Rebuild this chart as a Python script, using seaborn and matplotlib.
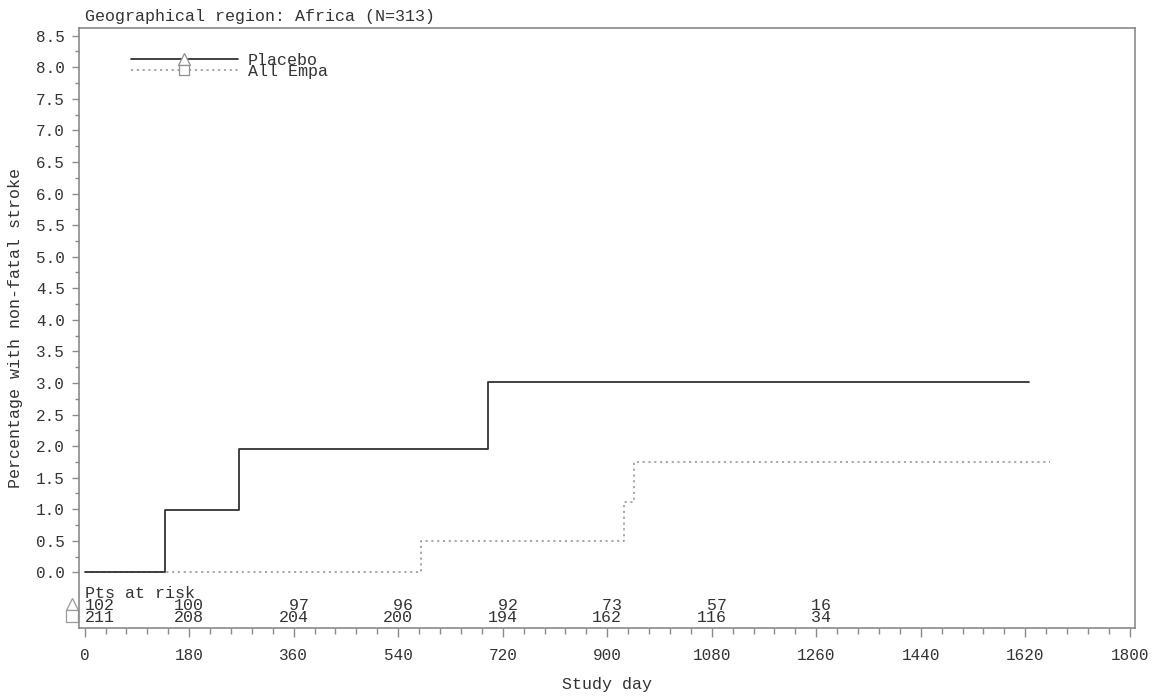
import matplotlib
matplotlib.use("Agg")
import matplotlib.pyplot as plt
from matplotlib.lines import Line2D
from matplotlib.ticker import MultipleLocator, FormatStrFormatter
import matplotlib.transforms as mtransforms
import numpy as np
import pandas as pd
import seaborn as sns

# Kaplan-Meier style cumulative incidence steps (percent)
placebo_days = [0, 139, 265, 695, 1626]
placebo_pct = [0.0, 0.98, 1.96, 3.01, 3.01]
empa_days = [0, 579, 929, 946, 1662]
empa_pct = [0.0, 0.50, 1.12, 1.75, 1.75]

# Patients at risk table
risk_days = [0, 180, 360, 540, 720, 900, 1080, 1260]
risk_placebo = [102, 100, 97, 96, 92, 73, 57, 16]
risk_empa = [211, 208, 204, 200, 194, 162, 116, 34]

series_names = ["Placebo", "All Empa"]
title_text = "Geographical region: Africa (N=313)"
x_label = "Study day"
y_label = "Percentage with non-fatal stroke"

sns.set_style("white")
plt.rcParams["font.family"] = ["Liberation Mono", "DejaVu Sans Mono"]

MONO = 12
TICK = 11.5
INK = "#333333"
FRAME = "#8a8a8a"

df = pd.concat([
    pd.DataFrame({"day": placebo_days, "pct": placebo_pct, "group": series_names[0]}),
    pd.DataFrame({"day": empa_days, "pct": empa_pct, "group": series_names[1]}),
])

fig = plt.figure(figsize=(11.54, 6.98), dpi=100)
ax = fig.add_axes([0.0682, 0.0998, 0.9153, 0.8601])

sns.lineplot(data=df[df.group == series_names[1]], x="day", y="pct", ax=ax,
             drawstyle="steps-post", color="#8f8f8f", linewidth=1.1,
             dashes=False, legend=False)
ax.lines[-1].set_dashes((1.4, 2.4))
sns.lineplot(data=df[df.group == series_names[0]], x="day", y="pct", ax=ax,
             drawstyle="steps-post", color=INK, linewidth=1.3, legend=False)

ax.set_xlim(-10.3, 1809)
ax.set_ylim(-0.887, 8.622)

ax.xaxis.set_major_locator(MultipleLocator(180))
ax.xaxis.set_minor_locator(MultipleLocator(36))
ax.set_yticks(np.arange(0, 8.51, 0.5))
ax.set_yticks(np.arange(0.25, 8.51, 0.5), minor=True)
ax.yaxis.set_major_formatter(FormatStrFormatter("%.1f"))

ax.tick_params(axis="x", which="major", direction="out", length=6.2, width=1,
               color=FRAME, labelsize=TICK, labelcolor=INK, pad=8, bottom=True)
ax.tick_params(axis="x", which="minor", direction="out", length=4.3, width=1,
               color=FRAME, bottom=True)
ax.tick_params(axis="y", which="major", direction="out", length=5, width=1,
               color=FRAME, labelsize=TICK, labelcolor=INK, pad=5, left=True)
ax.tick_params(axis="y", which="minor", direction="out", length=2.7, width=1,
               color=FRAME, left=True)

for s in ax.spines.values():
    s.set_visible(True)
    s.set_color(FRAME)
    s.set_linewidth(1.2)

ax.set_xlabel(x_label, fontsize=MONO, color=INK, labelpad=10)
ax.set_ylabel(y_label, fontsize=MONO, color=INK, labelpad=9)

# Title anchored at study day 0
trans_title = mtransforms.blended_transform_factory(ax.transData, ax.transAxes)
ax.text(0, 1.006, title_text, transform=trans_title, ha="left", va="bottom",
        fontsize=MONO, color=INK)

# Legend with markers drawn in the middle of each line sample
handles = [
    Line2D([], [], color=INK, lw=1.3, marker="^", markersize=8,
           markerfacecolor="white", markeredgecolor="#8f8f8f", markeredgewidth=0.9),
    Line2D([], [], color="#8f8f8f", lw=1.1, linestyle=(0, (1.4, 2.4)), marker="s",
           markersize=7, markerfacecolor="white", markeredgecolor="#8f8f8f",
           markeredgewidth=0.9),
]
leg = ax.legend(handles, series_names, loc="upper left",
                bbox_to_anchor=(0.0495, 0.959), frameon=False, borderpad=0,
                borderaxespad=0, handlelength=6.4, handletextpad=0.6,
                labelspacing=-0.2, numpoints=1, fontsize=MONO)
for t in leg.get_texts():
    t.set_color(INK)

# Patients-at-risk table
ax.text(0, -0.328, "Pts at risk", ha="left", va="center", fontsize=MONO, color=INK)
row_y = [-0.529, -0.708]
for counts, yy in zip([risk_placebo, risk_empa], row_y):
    for d, n in zip(risk_days, counts):
        ax.text(d, yy, str(n).rjust(3), ha="left" if d == 0 else "center",
                va="center", fontsize=MONO, color=INK)
ax.plot([-21], [row_y[0] + 0.02], marker="^", markersize=9, markerfacecolor="white",
        markeredgecolor="#9a9a9a", markeredgewidth=0.9, clip_on=False, linestyle="none")
ax.plot([-21], [row_y[1] + 0.01], marker="s", markersize=8, markerfacecolor="white",
        markeredgecolor="#9a9a9a", markeredgewidth=0.9, clip_on=False, linestyle="none")

fig.savefig("out.png", dpi=100, facecolor="white")
